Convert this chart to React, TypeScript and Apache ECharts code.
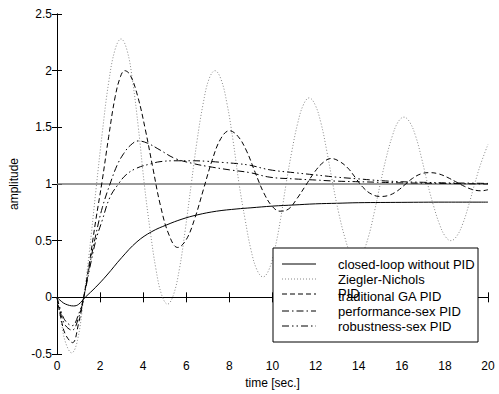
import React, { useEffect, useRef } from "react";
import * as echarts from "echarts";

const closedT = [0, 0.2, 0.4, 0.77, 1.0, 1.31, 1.8, 2.32, 3.0, 3.71, 4.4, 5.1, 5.8, 6.5, 7.4, 8.35, 9, 10, 11, 12, 13, 14, 16, 18, 20];
const closedY = [0, -0.035, -0.06, -0.076, -0.062, 0, 0.09, 0.197, 0.35, 0.49, 0.58, 0.64, 0.69, 0.727, 0.76, 0.78, 0.79, 0.805, 0.815, 0.825, 0.83, 0.835, 0.838, 0.84, 0.84];

const znT = [0, 0.2, 0.4, 0.68, 0.95, 1.24, 1.5, 1.82, 2.1, 2.4, 2.7, 2.97, 3.25, 3.51, 3.78, 4.05, 4.32, 4.59, 4.86, 5.13, 5.4, 5.68, 5.95, 6.23, 6.5, 6.78, 7.05, 7.33, 7.61, 7.89, 8.17, 8.45, 8.73, 9.0, 9.28, 9.56, 9.83, 10.1, 10.37, 10.63, 10.9, 11.17, 11.44, 11.7, 11.97, 12.25, 12.52, 12.8, 13.07, 13.35, 13.62, 13.9, 14.17, 14.45, 14.72, 15.0, 15.27, 15.55, 15.82, 16.1, 16.37, 16.65, 16.92, 17.2, 17.47, 17.74, 18.01, 18.28, 18.55, 18.83, 19.1, 19.38, 19.65, 20];
const znY = [0, -0.22, -0.4, -0.49, -0.38, 0, 0.4, 0.97, 1.45, 1.9, 2.19, 2.28, 2.18, 1.905, 1.49, 1.0, 0.594, 0.25, 0.02, -0.06, 0.02, 0.25, 0.594, 1.0, 1.383, 1.707, 1.924, 2.0, 1.924, 1.707, 1.383, 1.0, 0.686, 0.42, 0.242, 0.18, 0.242, 0.42, 0.686, 1.0, 1.291, 1.537, 1.702, 1.76, 1.702, 1.537, 1.291, 1.0, 0.747, 0.533, 0.39, 0.34, 0.39, 0.533, 0.747, 1.0, 1.226, 1.417, 1.545, 1.59, 1.545, 1.417, 1.226, 1.0, 0.81, 0.65, 0.54, 0.5, 0.54, 0.65, 0.81, 1.0, 1.17, 1.35];

const gaT = [0, 0.2, 0.4, 0.72, 1.0, 1.24, 1.5, 1.8, 2.09, 2.4, 2.7, 2.95, 3.14, 3.4, 3.75, 4.1, 4.45, 4.8, 5.2, 5.6, 6.0, 6.4, 6.8, 7.2, 7.6, 8.0, 8.4, 8.8, 9.2, 9.6, 10.0, 10.35, 10.75, 11.15, 11.55, 11.95, 12.35, 12.72, 13.1, 13.5, 13.85, 14.2, 14.6, 15.0, 15.4, 15.8, 16.15, 16.5, 16.9, 17.3, 17.7, 18.1, 18.5, 18.9, 19.3, 19.7, 20];
const gaY = [0, -0.2, -0.33, -0.4, -0.23, 0, 0.3, 0.68, 1.02, 1.42, 1.77, 1.95, 2.0, 1.96, 1.77, 1.48, 1.14, 0.81, 0.55, 0.44, 0.51, 0.7, 0.955, 1.21, 1.4, 1.47, 1.42, 1.29, 1.1, 0.92, 0.8, 0.76, 0.78, 0.875, 0.99, 1.105, 1.19, 1.225, 1.2, 1.14, 1.055, 0.97, 0.91, 0.89, 0.9, 0.94, 0.995, 1.05, 1.09, 1.1, 1.09, 1.06, 1.02, 0.98, 0.95, 0.94, 0.95];

const perfT = [0, 0.2, 0.4, 0.7, 1.0, 1.24, 1.5, 1.8, 2.1, 2.46, 2.8, 3.1, 3.4, 3.77, 4.2, 4.78, 5.48, 6.33, 7.0, 8.0, 8.96, 9.88, 11, 12, 13, 14, 15, 16, 18, 20];
const perfY = [0, -0.16, -0.25, -0.29, -0.18, 0, 0.27, 0.55, 0.79, 1.0, 1.17, 1.27, 1.34, 1.38, 1.36, 1.3, 1.225, 1.18, 1.155, 1.125, 1.1, 1.06, 1.045, 1.035, 1.025, 1.02, 1.015, 1.01, 1.005, 1.0];

const robT = [0, 0.2, 0.4, 0.7, 1.0, 1.24, 1.5, 1.8, 2.1, 2.45, 2.85, 3.2, 3.7, 4.39, 4.78, 5.48, 6.33, 7.0, 7.7, 8.34, 8.96, 9.88, 11, 12, 13, 14, 15, 16, 17, 18, 19, 20];
const robY = [0, -0.13, -0.21, -0.25, -0.15, 0, 0.24, 0.5, 0.68, 0.88, 1.0, 1.08, 1.14, 1.18, 1.197, 1.205, 1.205, 1.2, 1.19, 1.18, 1.165, 1.125, 1.1, 1.08, 1.06, 1.045, 1.03, 1.02, 1.015, 1.01, 1.008, 1.005];

const setT = [0, 20];
const setY = [1, 1];

const legendLabels = [
  "closed-loop without PID",
  "Ziegler-Nichols",
  "PID",
  "traditional GA PID",
  "performance-sex PID",
  "robustness-sex PID",
];

const FONT = "'Liberation Sans', Arial, sans-serif";

const pairs = (t: number[], y: number[]) => t.map((v, i) => [v, y[i]]);

const styles = [
  { color: "#000", type: "solid" as any, width: 1 },
  { color: "#888", type: [1, 2] as any, width: 1 },
  { color: "#000", type: [5, 3] as any, width: 1 },
  { color: "#000", type: [7, 3, 1.5, 3] as any, width: 1 },
  { color: "#000", type: [7, 3, 1.5, 3, 1.5, 3] as any, width: 1 },
];

export default function App() {
  const ref = useRef<HTMLDivElement>(null);
  useEffect(() => {
    if (!ref.current) return;
    const chart = echarts.init(ref.current, undefined, { renderer: "svg" });
    const datasets = [
      pairs(closedT, closedY),
      pairs(znT, znY),
      pairs(gaT, gaY),
      pairs(perfT, perfY),
      pairs(robT, robY),
    ];
    const axisCommon = {
      axisLine: { show: true, lineStyle: { color: "#000", width: 1 } },
      axisTick: { show: true, inside: true, length: 5, lineStyle: { color: "#000" } },
      splitLine: { show: false },
    };
    const legendX0 = 273, legendY0 = 248;
    const rowY = [264, 279, 293, 296, 311, 326];
    const lineRows = [264, 279, 294, 311, 326];
    const graphics: any[] = [
      {
        type: "rect",
        z: 100,
        shape: { x: legendX0, y: legendY0, width: 205, height: 94 },
        style: { fill: "#fff", stroke: "#000", lineWidth: 1 },
      },
    ];
    styles.forEach((s, i) => {
      graphics.push({
        type: "line",
        z: 101,
        shape: { x1: 282, y1: lineRows[i], x2: 316, y2: lineRows[i] },
        style: { stroke: s.color, lineWidth: 1, lineDash: s.type === "solid" ? null : s.type },
      });
    });
    legendLabels.forEach((lab, i) => {
      graphics.push({
        type: "text",
        z: 102,
        x: 338,
        y: rowY[i],
        style: {
          text: lab,
          fill: "#000",
          font: `13px ${FONT}`,
          verticalAlign: "middle",
          align: "left",
        },
      });
    });

    chart.setOption({
      animation: false,
      backgroundColor: "#fff",
      textStyle: { fontFamily: FONT },
      grid: { left: 57, right: 11, top: 14, bottom: 40, containLabel: false },
      xAxis: [
        {
          type: "value",
          min: 0,
          max: 20,
          interval: 2,
          ...axisCommon,
          axisLabel: { color: "#000", fontSize: 12, margin: 6, fontFamily: FONT },
          name: "time [sec.]",
          nameLocation: "middle",
          nameGap: 21,
          nameTextStyle: { color: "#000", fontSize: 12, fontFamily: FONT },
        },
        {
          type: "value",
          position: "top",
          min: 0,
          max: 20,
          interval: 2,
          ...axisCommon,
          axisLabel: { show: false },
        },
      ],
      yAxis: [
        {
          type: "value",
          min: -0.5,
          max: 2.5,
          interval: 0.5,
          ...axisCommon,
          axisLabel: { color: "#000", fontSize: 12, margin: 5, fontFamily: FONT },
          name: "amplitude",
          nameLocation: "middle",
          nameGap: 28,
          nameTextStyle: { color: "#000", fontSize: 12, fontFamily: FONT },
        },
        {
          type: "value",
          position: "right",
          min: -0.5,
          max: 2.5,
          interval: 0.5,
          ...axisCommon,
          axisLabel: { show: false },
        },
      ],
      series: [
        {
          type: "line",
          name: "setpoint",
          data: pairs(setT, setY),
          showSymbol: false,
          symbol: "none",
          lineStyle: { color: "#777", width: 1.5 },
          z: 1,
        },
        ...datasets.map((d, i) => ({
          type: "line",
          name: legendLabels[i],
          data: d,
          smooth: 0.4,
          symbol: "none",
          showSymbol: false,
          lineStyle: { color: styles[i].color, width: styles[i].width, type: styles[i].type },
          z: 2 + i,
        })),
      ],
      graphic: graphics,
    });
    return () => chart.dispose();
  }, []);
  return (
    <div
      ref={ref}
      style={{ position: "fixed", left: 0, top: 0, width: 499, height: 394 }}
    />
  );
}
